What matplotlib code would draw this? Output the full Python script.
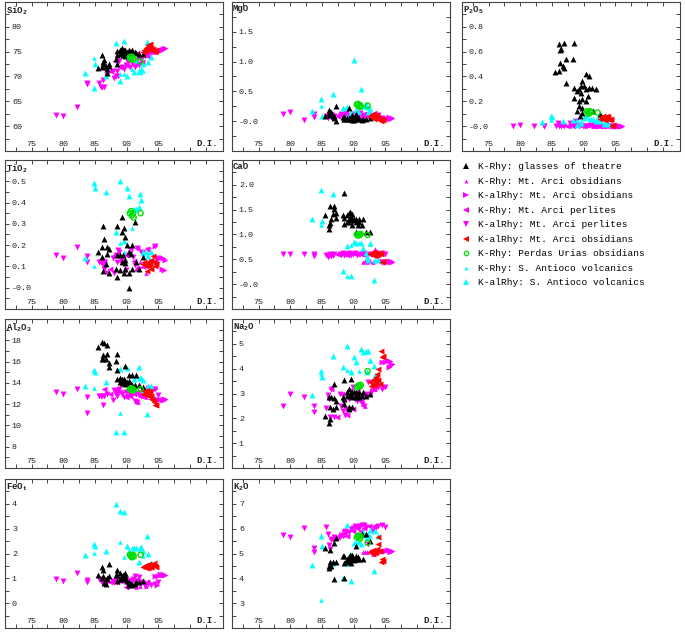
import matplotlib
matplotlib.use('Agg')
import matplotlib.pyplot as plt
from matplotlib.lines import Line2D
import numpy as np

plt.rcParams['font.family'] = 'Liberation Mono'
plt.rcParams['mathtext.fontset'] = 'custom'
plt.rcParams['mathtext.rm'] = 'Liberation Mono:bold'
plt.rcParams['mathtext.default'] = 'rm'

# K-Rhy: glasses of theatre
theatre_di = [85.5, 86.05, 86.05, 86.2, 86.3, 86.4, 86.7, 86.9, 86.9, 87.2, 87.2, 88.3, 88.4, 88.5, 88.5, 88.9, 89.0, 89.2, 89.2,
              89.3, 89.4, 89.5, 89.6, 89.7, 89.8, 89.8, 89.8, 90.0, 90.4, 90.4, 90.4, 90.7, 90.8, 90.8, 91.3, 91.5, 91.9, 92.6]
theatre_sio2 = [71.7, 71.9, 74.3, 72.9, 72.5, 73.3, 72.1, 70.7, 71.5, 72.5, 72.1, 73.5, 74.3, 72.5, 75.2, 74.5, 75.3, 74.9, 75.7,
                75.3, 74.3, 74.9, 75.3, 74.9, 75.3, 74.2, 75.0, 74.9, 75.3, 74.9, 75.0, 74.9, 75.3, 74.9, 74.9, 74.7, 74.6, 74.5]
theatre_mgo = [0.08, 0.13, 0.18, 0.10, 0.12, 0.16, 0.09, 0.08, 0.05, 0.01, 0.26, 0.07, 0.04, 0.04, 0.07, 0.04, 0.05, 0.03, 0.06,
               0.22, 0.04, 0.07, 0.05, 0.02, 0.07, 0.10, 0.03, 0.02, 0.09, 0.05, 0.12, 0.04, 0.03, 0.06, 0.02, 0.04, 0.03, 0.05]
theatre_p2o5 = [0.44, 0.445, 0.66, 0.61, 0.51, 0.62, 0.485, 0.67, 0.47, 0.54, 0.35, 0.54, 0.23, 0.67, 0.31, 0.285, 0.125, 0.20, 0.165,
                0.30, 0.085, 0.27, 0.32, 0.15, 0.36, 0.22, 0.11, 0.325, 0.42, 0.30, 0.205, 0.24, 0.405, 0.31, 0.31, 0.125, 0.30, 0.10]
theatre_tio2 = [0.17, 0.145, 0.19, 0.29, 0.078, 0.23, 0.11, 0.158, 0.19, 0.067, 0.18, 0.09, 0.29, 0.153, 0.048, 0.153, 0.083, 0.122, 0.33,
                0.26, 0.153, 0.067, 0.28, 0.24, 0.114, 0.13, 0.09, 0.20, 0.17, 0.067, 0.0, 0.158, 0.20, 0.09, 0.31, 0.122, 0.09, 0.145]
theatre_cao = [1.39, 1.20, 1.11, 1.23, 1.57, 1.32, 1.42, 1.57, 1.51, 1.44, 1.33, 1.39, 1.22, 1.83, 1.33, 1.39, 1.25, 1.25, 1.44,
               1.32, 1.45, 1.29, 1.35, 1.42, 1.32, 1.29, 1.19, 1.32, 1.05, 1.32, 1.25, 1.19, 1.32, 1.25, 1.19, 1.31, 1.05, 1.05]
theatre_al2o3 = [17.4, 16.2, 17.8, 16.2, 16.6, 17.7, 16.2, 17.6, 16.7, 15.9, 15.5, 16.1, 15.2, 16.7, 14.4, 14.5, 14.1, 14.3, 14.4,
                 14.0, 14.1, 14.4, 14.0, 14.2, 15.6, 14.2, 13.9, 14.1, 13.9, 14.2, 14.7, 13.9, 14.7, 13.8, 13.8, 14.7, 13.8, 13.6]
theatre_na2o = [2.10, 1.81, 2.85, 1.97, 2.44, 2.85, 2.37, 3.39, 2.81, 2.71, 2.44, 2.85, 3.56, 2.58, 2.78, 2.91, 3.05, 2.44, 3.18,
                2.37, 2.98, 3.59, 2.94, 2.85, 2.91, 3.05, 2.44, 3.05, 2.85, 2.94, 3.05, 2.85, 3.05, 2.85, 2.89, 3.05, 2.89, 3.00]
theatre_feot = [1.14, 1.00, 1.45, 1.32, 1.11, 0.82, 0.78, 1.00, 0.98, 1.58, 1.09, 1.14, 0.91, 1.14, 1.32, 0.98, 1.22, 1.05, 1.11,
                0.98, 1.14, 1.05, 1.11, 1.22, 0.98, 1.05, 1.14, 0.91, 0.78, 0.85, 0.74, 0.78, 0.78, 0.74, 0.78, 0.85, 0.85, 0.90]
theatre_k2o = [5.21, 4.40, 4.51, 5.14, 4.67, 4.51, 4.64, 3.97, 5.43, 4.64, 5.61, 4.89, 4.00, 4.62, 4.89, 4.78, 4.71, 4.64, 4.85,
               4.75, 4.94, 4.78, 4.62, 4.85, 4.94, 4.78, 4.89, 4.75, 5.29, 4.78, 4.89, 4.85, 4.78, 4.78, 5.79, 4.78, 5.79, 5.50]

# K-Rhy: Mt. Arci obsidians
arci_obs_k_di = [91.5, 91.8, 92.1, 92.5, 93.0, 93.3]
arci_obs_k_sio2 = [73.3, 73.9, 74.2, 74.5, 74.7, 74.5]
arci_obs_k_mgo = [0.25, 0.10, 0.08, 0.12, 0.09, 0.11]
arci_obs_k_p2o5 = [0.0, 0.005, 0.0, 0.01, 0.0, 0.005]
arci_obs_k_tio2 = [0.09, 0.098, 0.12, 0.10, 0.067, 0.11]
arci_obs_k_cao = [0.44, 0.46, 0.45, 0.47, 0.44, 0.71]
arci_obs_k_al2o3 = [12.3, 12.2, 12.9, 12.75, 12.65, 13.0]
arci_obs_k_na2o = [2.58, 2.51, 2.98, 3.12, 3.18, 3.39]
arci_obs_k_feot = [0.64, 0.85, 0.71, 0.85, 0.71, 0.91]
arci_obs_k_k2o = [5.05, 5.08, 5.05, 5.10, 5.00, 5.05]

# K-alRhy: Mt. Arci obsidians (magenta)
arci_obs_al_di = [94.5, 94.8, 95.0, 95.3, 95.5, 95.7, 95.9, 96.1]
arci_obs_al_sio2 = [74.9, 75.1, 75.2, 75.3, 75.4, 75.5, 75.6, 75.7]
arci_obs_al_mgo = [0.06, 0.04, 0.05, 0.03, 0.07, 0.04, 0.05, 0.06]
arci_obs_al_p2o5 = [0.0, 0.005, 0.0, 0.0, 0.005, 0.0, 0.0, 0.0]
arci_obs_al_tio2 = [0.197, 0.12, 0.138, 0.14, 0.09, 0.138, 0.083, 0.13]
arci_obs_al_cao = [0.46, 0.45, 0.47, 0.44, 0.46, 0.45, 0.47, 0.45]
arci_obs_al_al2o3 = [13.4, 12.5, 12.4, 12.5, 12.4, 12.5, 12.4, 12.5]
arci_obs_al_na2o = [4.26, 3.25, 4.26, 4.33, 4.06, 4.30, 4.15, 4.20]
arci_obs_al_feot = [1.11, 0.74, 1.11, 1.18, 1.15, 1.18, 1.14, 1.12]
arci_obs_al_k2o = [5.12, 5.10, 5.12, 5.16, 5.14, 5.08, 5.12, 5.10]

# K-Rhy: Mt. Arci perlites
arci_per_k_di = [86.4, 87.3, 88.1, 89.0, 89.9, 90.5, 91.1, 91.7, 92.4, 93.2]
arci_per_k_sio2 = [71.5, 71.1, 73.2, 72.0, 72.4, 73.2, 72.9, 74.7, 72.9, 74.2]
arci_per_k_mgo = [0.12, 0.09, 0.10, 0.08, 0.14, 0.11, 0.06, 0.12, 0.10, 0.13]
arci_per_k_p2o5 = [0.01, 0.0, 0.02, 0.01, 0.0, 0.01, 0.02, 0.01, 0.0, 0.01]
arci_per_k_tio2 = [0.127, 0.09, 0.156, 0.125, 0.153, 0.188, 0.125, 0.188, 0.166, 0.184]
arci_per_k_cao = [0.58, 0.60, 0.61, 0.59, 0.62, 0.60, 0.61, 0.58, 0.60, 0.62]
arci_per_k_al2o3 = [13.4, 13.0, 13.3, 13.1, 12.65, 12.75, 13.0, 13.1, 12.9, 13.3]
arci_per_k_na2o = [3.18, 2.04, 2.98, 2.13, 2.37, 3.12, 2.71, 2.89, 2.98, 3.18]
arci_per_k_feot = [0.98, 0.85, 0.91, 0.91, 0.64, 0.98, 0.91, 0.98, 0.85, 0.85]
arci_per_k_k2o = [5.59, 5.65, 5.75, 5.72, 5.92, 6.02, 5.92, 6.02, 6.10, 6.10]

# K-alRhy: Mt. Arci perlites
arci_per_al_di = [78.9, 79.9, 82.1, 83.7, 83.8, 85.6, 85.9, 86.1, 86.2, 86.4, 86.9, 87.8, 88.0, 88.3, 88.5, 88.7,
                  88.8, 89.2, 89.5, 89.9, 90.2, 90.6, 91.0, 91.3, 91.6, 92.0, 92.3, 92.9, 93.4, 93.9, 94.5, 95.0]
arci_per_al_sio2 = [62.3, 62.1, 63.9, 68.7, 68.4, 68.7, 67.9, 67.9, 69.3, 67.9, 70.3, 71.1, 69.7, 70.2, 71.1, 70.2,
                    73.2, 71.9, 71.5, 72.4, 72.9, 72.0, 72.5, 71.9, 72.5, 72.4, 73.3, 74.2, 74.5, 74.7, 74.9, 75.2]
arci_per_al_mgo = [0.12, 0.15, 0.02, 0.12, 0.07, 0.09, 0.06, 0.09, 0.11, 0.07, 0.09, 0.08, 0.12, 0.10, 0.05, 0.09,
                   0.13, 0.10, 0.08, 0.12, 0.05, 0.10, 0.13, 0.08, 0.10, 0.06, 0.11, 0.09, 0.07, 0.10, 0.05, 0.04]
arci_per_al_p2o5 = [0.0, 0.013, 0.0, 0.0, 0.0, 0.0, 0.025, 0.0, 0.01, 0.0, 0.0, 0.025, 0.0, 0.01, 0.0, 0.0,
                    0.045, 0.0, 0.01, 0.0, 0.0, 0.0, 0.01, 0.0, 0.0, 0.0, 0.0, 0.0, 0.0, 0.0, 0.0, 0.0]
arci_per_al_tio2 = [0.156, 0.138, 0.189, 0.148, 0.119, 0.122, 0.122, 0.127, 0.106, 0.09, 0.07, 0.138, 0.07, 0.156, 0.122, 0.177,
                    0.169, 0.125, 0.114, 0.083, 0.153, 0.164, 0.145, 0.106, 0.188, 0.09, 0.166, 0.098, 0.177, 0.122, 0.197, 0.138]
arci_per_al_cao = [0.61, 0.60, 0.60, 0.60, 0.57, 0.59, 0.55, 0.58, 0.60, 0.57, 0.61, 0.60, 0.58, 0.62, 0.59, 0.61,
                   0.60, 0.63, 0.58, 0.60, 0.62, 0.59, 0.61, 0.60, 0.62, 0.58, 0.61, 0.60, 0.62, 0.61, 0.63, 0.60]
arci_per_al_al2o3 = [13.1, 13.0, 13.4, 12.65, 11.2, 12.75, 12.75, 12.75, 11.9, 12.75, 13.0, 12.4, 13.3, 13.0, 12.75, 13.1,
                     13.4, 13.0, 12.65, 13.1, 12.75, 13.0, 13.1, 12.3, 12.2, 12.9, 12.75, 13.3, 13.5, 13.4, 13.4, 12.9]
arci_per_al_na2o = [2.48, 2.98, 2.85, 2.48, 2.27, 2.40, 2.94, 2.78, 2.04, 3.18, 2.04, 2.98, 2.51, 2.31, 2.64, 2.13,
                    2.37, 2.78, 3.12, 3.25, 2.78, 2.71, 2.89, 2.58, 2.51, 2.98, 3.45, 3.12, 3.18, 3.25, 3.18, 3.25]
arci_per_al_feot = [0.98, 0.91, 1.22, 0.94, 0.85, 0.98, 0.91, 0.87, 0.85, 0.91, 0.85, 0.91, 0.85, 0.91, 0.85, 0.91,
                    0.85, 0.98, 0.91, 0.98, 0.71, 0.91, 0.98, 1.11, 0.85, 1.05, 0.85, 0.71, 0.78, 0.74, 0.78, 0.85]
arci_per_al_k2o = [5.75, 5.68, 6.02, 5.21, 5.05, 6.06, 5.79, 5.35, 5.18, 5.59, 5.65, 5.65, 5.75, 5.72, 5.86, 5.92,
                   5.83, 5.88, 6.00, 6.02, 6.10, 6.06, 6.10, 6.13, 6.13, 6.06, 5.39, 5.92, 6.00, 6.10, 6.13, 6.06]

# K-alRhy: Mt. Arci obsidians (red)
arci_red_di = [92.6, 92.8, 93.0, 93.1, 93.2, 93.3, 93.4, 93.5, 93.6, 93.7, 93.8, 93.9, 94.1, 94.3, 94.5, 94.6]
arci_red_sio2 = [75.0, 75.4, 75.8, 75.2, 76.0, 75.5, 76.3, 75.6, 75.9, 76.5, 75.3, 75.8, 75.6, 75.2, 75.0, 75.4]
arci_red_mgo = [0.08, 0.10, 0.06, 0.12, 0.04, 0.09, 0.07, 0.11, 0.05, 0.08, 0.03, 0.06, 0.02, 0.01, 0.03, 0.02]
arci_red_p2o5 = [0.06, 0.07, 0.06, 0.08, 0.06, 0.07, 0.05, 0.07, 0.06, 0.08, 0.06, 0.07, 0.05, 0.06, 0.005, 0.01]
arci_red_tio2 = [0.11, 0.12, 0.10, 0.11, 0.08, 0.12, 0.11, 0.10, 0.12, 0.11, 0.09, 0.13, 0.15, 0.12, 0.10, 0.11]
arci_red_cao = [0.60, 0.62, 0.58, 0.64, 0.60, 0.56, 0.62, 0.60, 0.63, 0.58, 0.61, 0.60, 0.62, 0.60, 0.45, 0.46]
arci_red_al2o3 = [13.0, 13.2, 12.9, 13.1, 13.3, 13.0, 13.1, 12.8, 13.0, 13.2, 12.5, 12.8, 12.4, 12.2, 11.9, 11.9]
arci_red_na2o = [3.45, 3.30, 3.55, 3.40, 3.60, 3.35, 3.50, 3.66, 3.45, 3.79, 3.99, 3.55, 3.40, 4.73, 4.46, 4.50]
arci_red_feot = [1.45, 1.50, 1.42, 1.55, 1.48, 1.40, 1.52, 1.45, 1.58, 1.50, 1.44, 1.47, 1.55, 1.60, 1.50, 1.45]
arci_red_k2o = [5.05, 5.10, 5.00, 5.15, 5.05, 5.10, 5.02, 5.12, 5.08, 5.20, 5.40, 5.65, 5.10, 4.64, 4.78, 4.70]

# K-Rhy: Perdas Urias obsidians
urias_di = [90.5, 90.7, 90.8, 91.0, 91.1, 92.2]
urias_sio2 = [73.9, 73.5, 74.0, 73.4, 73.6, 73.0]
urias_mgo = [0.28, 0.29, 0.25, 0.27, 0.24, 0.26]
urias_p2o5 = [0.12, 0.11, 0.10, 0.12, 0.11, 0.11]
urias_tio2 = [0.35, 0.36, 0.34, 0.35, 0.33, 0.35]
urias_cao = [1.00, 0.98, 1.00, 0.99, 1.01, 0.99]
urias_al2o3 = [13.4, 13.5, 13.3, 13.4, 13.3, 13.4]
urias_na2o = [3.25, 3.30, 3.32, 3.28, 3.35, 3.90]
urias_feot = [1.95, 1.90, 1.85, 1.95, 1.88, 1.95]
urias_k2o = [5.65, 5.70, 5.72, 5.60, 5.68, 5.43]

# K-Rhy: S. Antioco volcanics
antioco_k_di = [84.9, 89.0, 89.5, 90.8, 92.6]
antioco_k_sio2 = [73.7, 70.5, 70.5, 71.5, 71.2]
antioco_k_mgo = [0.26, 0.09, 0.12, 0.15, 0.12]
antioco_k_p2o5 = [0.05, 0.05, 0.02, 0.06, 0.06]
antioco_k_tio2 = [0.10, 0.21, 0.17, 0.28, 0.16]
antioco_k_cao = [1.20, 0.17, 0.79, 0.82, 0.80]
antioco_k_al2o3 = [13.5, 11.2, 14.0, 13.9, 13.3]
antioco_k_na2o = [3.79, 3.96, 3.90, 3.92, 4.30]
antioco_k_feot = [2.01, 2.48, 1.85, 2.24, 1.89]
antioco_k_k2o = [3.13, 4.58, 5.00, 5.48, 5.72]

# K-alRhy: S. Antioco volcanics
antioco_al_di = [83.5, 84.9, 85.0, 86.8, 88.3, 88.9, 89.5, 90.1, 90.4, 91.2, 91.4, 92.0, 92.1, 92.3, 92.5, 93.2, 93.4, 93.9]
antioco_al_sio2 = [70.7, 67.7, 72.5, 70.2, 76.7, 69.0, 77.1, 70.2, 74.2, 70.9, 73.3, 71.2, 70.9, 71.5, 72.5, 76.9, 72.9, 73.9]
antioco_al_mgo = [0.17, 0.37, 0.08, 0.45, 0.22, 0.23, 0.15, 1.03, 0.18, 0.54, 0.25, 0.29, 0.23, 0.15, 0.21, 0.07, 0.10, 0.08]
antioco_al_p2o5 = [0.03, 0.085, 0.07, 0.045, 0.05, 0.01, 0.03, 0.067, 0.085, 0.06, 0.06, 0.04, 0.06, 0.06, 0.04, 0.02, 0.03, 0.02]
antioco_al_tio2 = [0.14, 0.49, 0.47, 0.45, 0.26, 0.50, 0.22, 0.47, 0.43, 0.37, 0.37, 0.38, 0.44, 0.41, 0.17, 0.17, 0.15, 0.17]
antioco_al_cao = [1.32, 1.90, 1.27, 1.82, 0.27, 0.77, 0.17, 0.85, 0.82, 0.83, 0.73, 0.62, 0.55, 0.49, 0.82, 0.09, 0.49, 0.49]
antioco_al_al2o3 = [13.75, 15.2, 15.0, 14.1, 9.4, 15.3, 9.4, 15.4, 14.1, 14.4, 14.6, 15.5, 14.5, 14.5, 14.3, 11.1, 13.7, 13.7]
antioco_al_na2o = [2.94, 3.92, 3.65, 4.49, 4.06, 4.91, 3.88, 4.46, 4.26, 4.80, 4.67, 4.70, 3.86, 4.70, 4.36, 4.10, 3.75, 3.56]
antioco_al_feot = [1.92, 2.39, 2.30, 2.12, 4.00, 3.70, 3.66, 2.30, 2.12, 2.21, 2.23, 1.65, 2.23, 2.25, 2.12, 2.70, 2.00, 1.62]
antioco_al_k2o = [4.54, 5.72, 5.29, 4.62, 4.00, 6.15, 3.90, 5.43, 5.48, 5.39, 5.86, 5.75, 5.61, 5.75, 5.96, 4.31, 5.90, 5.70]

# panel label, key, y limits, labelled tick step, label format
panels = [
    ('SiO$_2$', 'sio2', (55, 85), 5, '%d'),
    ('MgO', 'mgo', (-0.5, 2.0), 0.5, '%.1f'),
    ('P$_2$O$_5$', 'p2o5', (-0.2, 1.0), 0.2, '%.1f'),
    ('TiO$_2$', 'tio2', (-0.1, 0.6), 0.1, '%.1f'),
    ('CaO', 'cao', (-0.5, 2.5), 0.5, '%.1f'),
    ('Al$_2$O$_3$', 'al2o3', (6, 20), 2, '%d'),
    ('Na$_2$O', 'na2o', (0, 6), 1, '%d'),
    ('FeO$_t$', 'feot', (-1, 5), 1, '%d'),
    ('K$_2$O', 'k2o', (2, 8), 1, '%d'),
]
# panel frames in pixels: left, top
frames = [(5, 2), (232, 2), (462, 2),
          (5, 160), (232, 160),
          (5, 319), (232, 319),
          (5, 479), (232, 479)]
W, H = 685, 632
PW, PH = 218, 149


def group_data(prefix):
    g = globals()
    return {k: g[prefix + '_' + k] for k in
            ['di', 'sio2', 'mgo', 'p2o5', 'tio2', 'cao', 'al2o3', 'na2o', 'feot', 'k2o']}


groups = [
    ('arci_per_al', 'K-alRhy: Mt. Arci perlites', 'v', '#ff00ff', 18, True),
    ('arci_per_k', 'K-Rhy: Mt. Arci perlites', '<', '#ff00ff', 18, True),
    ('arci_obs_al', 'K-alRhy: Mt. Arci obsidians', '>', '#ff00ff', 18, True),
    ('arci_obs_k', 'K-Rhy: Mt. Arci obsidians', '^', '#ff00ff', 11, True),
    ('antioco_al', 'K-alRhy: S. Antioco volcanics', '^', '#00ffff', 18, True),
    ('antioco_k', 'K-Rhy: S. Antioco volcanics', '^', '#00ffff', 11, True),
    ('theatre', 'K-Rhy: glasses of theatre', '^', '#000000', 18, True),
    ('urias', 'K-Rhy: Perdas Urias obsidians', 'o', '#00dd00', 14, False),
    ('arci_red', 'K-alRhy: Mt. Arci obsidians', '<', '#ff0000', 18, True),
]
legend_order = ['theatre', 'arci_obs_k', 'arci_obs_al', 'arci_per_k', 'arci_per_al',
                'arci_red', 'urias', 'antioco_k', 'antioco_al']

fig = plt.figure(figsize=(W / 100, H / 100), dpi=100)
frame_col = '#444444'
handles = {}

for (label, key, ylim, step, fmt), (fl, ft) in zip(panels, frames):
    ax = fig.add_axes([fl / W, 1 - (ft + PH) / H, PW / W, PH / H])
    for name, text, marker, color, size, filled in groups:
        d = group_data(name)
        ms = np.sqrt(size) * 0.85
        if filled:
            ax.scatter(d['di'], d[key], marker=marker, s=size, c=color, linewidths=0)
            handles[name] = Line2D([], [], ls='none', marker=marker, color=color, markersize=ms, mew=0)
        else:
            ax.scatter(d['di'], d[key], marker=marker, s=size, facecolors='none',
                       edgecolors=color, linewidths=1.0)
            handles[name] = Line2D([], [], ls='none', marker=marker, mfc='none', mec=color, markersize=ms, mew=0.9)

    ax.set_xlim(70.8, 105.2)
    ax.set_xticks([75, 80, 85, 90, 95])
    ax.set_xticks(np.arange(72.5, 103, 2.5), minor=True)
    lo = np.ceil(ylim[0] / step + 1e-9) * step
    hi = np.floor(ylim[1] / step - 1e-9) * step
    yt = np.arange(lo, hi + step / 2, step)
    ax.set_yticks(yt)
    ax.set_yticklabels([fmt % v for v in yt])
    ax.set_yticks(np.arange(lo - step / 2, hi + step, step / 2), minor=True)
    ax.set_ylim(*ylim)

    ax.tick_params(which='both', direction='in', top=True, right=True, length=3, width=0.7,
                   color=frame_col, labelsize=6, labelcolor='#222222')
    ax.tick_params(axis='y', pad=-5)
    ax.tick_params(axis='x', pad=-2.5)
    for lab in ax.get_yticklabels():
        lab.set_horizontalalignment('left')
    for lab in ax.get_xticklabels():
        lab.set_verticalalignment('bottom')
    for sp in ax.spines.values():
        sp.set_color(frame_col)
        sp.set_linewidth(0.8)

    ax.text(0.005, 0.985, label, transform=ax.transAxes, ha='left', va='top',
            fontsize=6.5, fontweight='bold', color='#222222')
    ax.annotate('D.I.', xy=(1, 0), xycoords='axes fraction', xytext=(-4, 2.5),
                textcoords='offset points', ha='right', va='bottom',
                fontsize=6.5, fontweight='bold', color='#222222')

fig.legend([handles[n] for n in legend_order],
           [g[1] for n in legend_order for g in groups if g[0] == n],
           loc='upper left', bbox_to_anchor=(461.3 / W, 1 - 162.5 / H),
           frameon=False, prop={'size': 6.8}, handlelength=1.0, handletextpad=0.78,
           labelspacing=0.58, borderaxespad=0, borderpad=0)

fig.savefig('out.png', dpi=100)
